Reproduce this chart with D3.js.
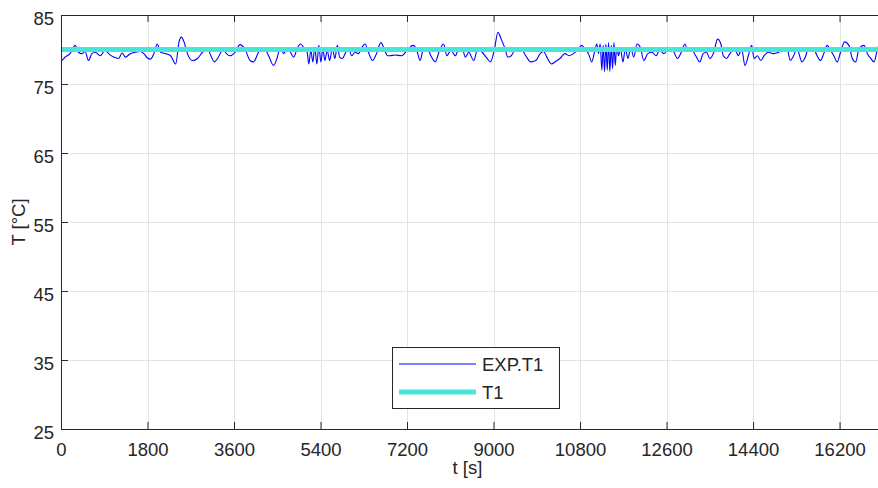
<!DOCTYPE html>
<html><head><meta charset="utf-8">
<script src="https://cdn.jsdelivr.net/npm/d3@7"></script>
<style>html,body{margin:0;padding:0;background:#fff;} svg{display:block;}</style>
</head><body>
<script>
const expTime = [0,14,84,188,293,363,432,502,572,642,712,816,921,991,1095,1200,1270,1340,1444,1549,1654,1723,1793,1863,1933,2002,2072,2177,2281,2386,2456,2505,2560,2630,2735,2840,2944,3049,3119,3188,3258,3328,3398,
3412,3517,3621,3726,3831,3935,4005,4110,4214,4319,4424,4493,4563,4633,4703,4772,4842,4912,4982,5051,5121,5156,5198,5240,5282,5324,5366,5407,5449,5491,5540,5589,5645,5700,5749,5798,5854,5924,5979,6049,6119,6189,6259,6328,6398,6482,6565,6656,6726,6796,
6844,6949,7088,7228,7332,7402,7472,7542,7611,7695,7786,7877,7960,8030,8114,8205,8274,8344,8414,8484,8588,8672,8763,8867,8937,9021,9091,9160,9230,9300,9370,9460,9565,9670,9774,9879,9970,10040,10123,10207,
10277,10382,10486,10570,10661,10751,10835,10905,10975,11044,11100,11149,11184,11219,11254,11282,11310,11338,11366,11393,11421,11449,11477,11505,11533,11561,11603,11638,11693,11742,11798,11854,11917,11986,12056,12126,12210,12300,12384,12454,12545,12649,12754,12824,12907,12984,13040,13110,13207,13291,13361,13431,13500,13584,13661,
13731,13779,13849,13918,14023,14093,14162,14232,14302,14372,14421,14490,14560,14630,14721,14825,14930,15035,15104,15174,15244,15314,15418,15488,15558,15663,15732,15802,15872,15942,16011,16081,16151,16221,16304,16395,16465,16535,16605,16709,16779,16849,16918,16988,17000];
const expTemp = [78.5,78.4,78.9,79.4,80.6,79.6,79.4,79.7,78.4,79.4,79.6,79.1,79.9,79.4,78.9,78.7,79.5,78.9,79.4,79.6,79.7,79.4,78.8,78.6,79.4,80.8,79.6,79.4,79.1,77.9,81.1,81.8,81.1,79.4,78.4,78.7,79.6,80.1,79.1,78.2,78.7,79.6,80.1,
79.7,79.1,79.6,80.7,80.0,78.4,78.2,79.6,80.3,79.1,77.7,78.7,80.3,79.4,80.0,79.6,78.9,80.1,80.8,80.3,79.6,77.9,79.9,78.2,80.3,77.9,80.6,78.2,80.1,78.4,79.9,78.4,80.1,78.7,80.6,78.9,78.7,79.6,80.3,79.1,79.6,79.4,80.3,80.8,79.6,78.4,79.4,81.0,80.1,79.1,
79.1,79.2,79.1,80.1,80.6,79.9,78.4,80.1,80.3,79.1,78.2,79.9,80.8,79.1,79.9,79.1,80.1,80.3,78.9,79.6,78.4,80.1,79.6,78.7,78.2,80.1,82.5,81.5,80.3,78.9,79.1,80.1,80.1,79.1,78.2,78.4,79.4,79.7,78.7,77.9,
78.2,78.7,79.4,79.1,79.4,79.9,80.6,80.0,79.4,78.2,79.6,80.8,79.4,80.8,77.0,80.6,76.8,80.8,77.0,81.0,76.8,80.6,77.2,81.0,77.7,80.3,79.1,80.3,78.2,80.1,78.7,80.3,78.9,80.8,80.3,78.4,79.4,79.6,79.1,79.9,79.4,80.1,79.6,78.7,79.6,80.8,79.9,80.1,79.1,78.2,79.4,79.6,78.7,79.6,81.5,
80.8,79.1,78.7,79.4,80.1,79.1,80.1,77.7,79.1,80.6,78.7,79.1,78.4,79.1,79.6,79.4,79.6,80.1,80.3,78.4,79.1,80.1,78.2,78.9,80.3,80.1,79.1,78.4,79.4,80.6,79.9,79.1,78.2,79.6,81.1,80.6,78.7,78.2,80.1,80.6,79.4,78.7,78.2,80.1,80.4];
const simTime = [0, 17000];
const simTemp = [80, 80];
const xTicks = [0,1800,3600,5400,7200,9000,10800,12600,14400,16200];
const yTicks = [25,35,45,55,65,75,85];
const seriesNames = ["EXP.T1","T1"];
const seriesColors = ["#0000ff","#48e5d8"];

const W = 878, H = 488;
const L = 61, R = 878, T = 15, B = 429;
const font = "'Liberation Sans', Arial, Helvetica, sans-serif";
const textColor = "#262626";

const svg = d3.select("body").append("svg").attr("width", W).attr("height", H)
  .style("font-family", font);
svg.append("rect").attr("width", W).attr("height", H).attr("fill", "#fff");

const x = d3.scaleLinear().domain([0, 17000]).range([L, R]);
const y = d3.scaleLinear().domain([25, 85]).range([B, T]);

// grid
const grid = svg.append("g");
grid.selectAll("line.vx").data(xTicks).join("line")
  .attr("x1", d => Math.round(x(d)) + 0.5).attr("x2", d => Math.round(x(d)) + 0.5)
  .attr("y1", T).attr("y2", B).attr("stroke", "#e3e3e3").attr("stroke-width", 1);
grid.selectAll("line.hy").data(yTicks).join("line")
  .attr("y1", d => Math.round(y(d)) + 0.5).attr("y2", d => Math.round(y(d)) + 0.5)
  .attr("x1", L).attr("x2", R).attr("stroke", "#e3e3e3").attr("stroke-width", 1);

svg.append("defs").append("clipPath").attr("id", "clip")
  .append("rect").attr("x", L).attr("y", T).attr("width", R - L).attr("height", B - T);

const plot = svg.append("g").attr("clip-path", "url(#clip)");
const expData = expTime.map((t, i) => [t, expTemp[i]]);
const simData = simTime.map((t, i) => [t, simTemp[i]]);
const line = d3.line().x(d => x(d[0])).y(d => y(d[1])).curve(d3.curveMonotoneX);
plot.append("path").datum(expData).attr("d", line)
  .attr("fill", "none").attr("stroke", seriesColors[0]).attr("stroke-width", 1.1);
plot.append("path").datum(simData).attr("d", d3.line().x(d => x(d[0])).y(d => y(d[1])))
  .attr("fill", "none").attr("stroke", seriesColors[1]).attr("stroke-width", 5);

// axes
const xAxis = d3.axisBottom(x).tickValues(xTicks).tickSizeInner(-7).tickSizeOuter(0).tickPadding(14).tickFormat(d3.format("d"));
const gx = svg.append("g").attr("transform", `translate(0,${B})`).call(xAxis);
const xTop = d3.axisTop(x).tickValues(xTicks).tickSizeInner(-7).tickSizeOuter(0).tickFormat("");
const gxt = svg.append("g").attr("transform", `translate(0,${T})`).call(xTop);
const yAxis = d3.axisLeft(y).tickValues(yTicks).tickSizeInner(-7).tickSizeOuter(0).tickPadding(7);
const gy = svg.append("g").attr("transform", `translate(${L},0)`).call(yAxis);
[gx, gxt, gy].forEach(g => {
  g.select(".domain").attr("stroke", textColor).attr("stroke-width", 1);
  g.selectAll(".tick line").attr("stroke", textColor);
  g.selectAll("text").attr("fill", textColor).style("font-size", "18.5px").style("font-family", font);
});
gy.selectAll("text").attr("dy", "0.5em");

// axis labels
svg.append("text").attr("x", (L + R) / 2 - 2).attr("y", 474).attr("text-anchor", "middle")
  .attr("fill", textColor).style("font-size", "18.5px").text("t [s]");
svg.append("text").attr("transform", `translate(25,${(T + B) / 2}) rotate(-90)`)
  .attr("text-anchor", "middle").attr("fill", textColor).style("font-size", "18.5px").text("T [°C]");

// legend
const lg = svg.append("g");
lg.append("rect").attr("x", 392.5).attr("y", 347.5).attr("width", 167).attr("height", 61)
  .attr("fill", "#fff").attr("stroke", "#262626").attr("stroke-width", 1);
const ly = [364, 392];
seriesNames.forEach((n, i) => {
  lg.append("line").attr("x1", 399).attr("x2", 476).attr("y1", ly[i]).attr("y2", ly[i])
    .attr("stroke", seriesColors[i]).attr("stroke-width", i === 0 ? 1.1 : 5);
  lg.append("text").attr("x", 482).attr("y", ly[i]).attr("dy", "0.36em")
    .attr("fill", textColor).style("font-size", "18.5px").text(n);
});
</script>
</body></html>
